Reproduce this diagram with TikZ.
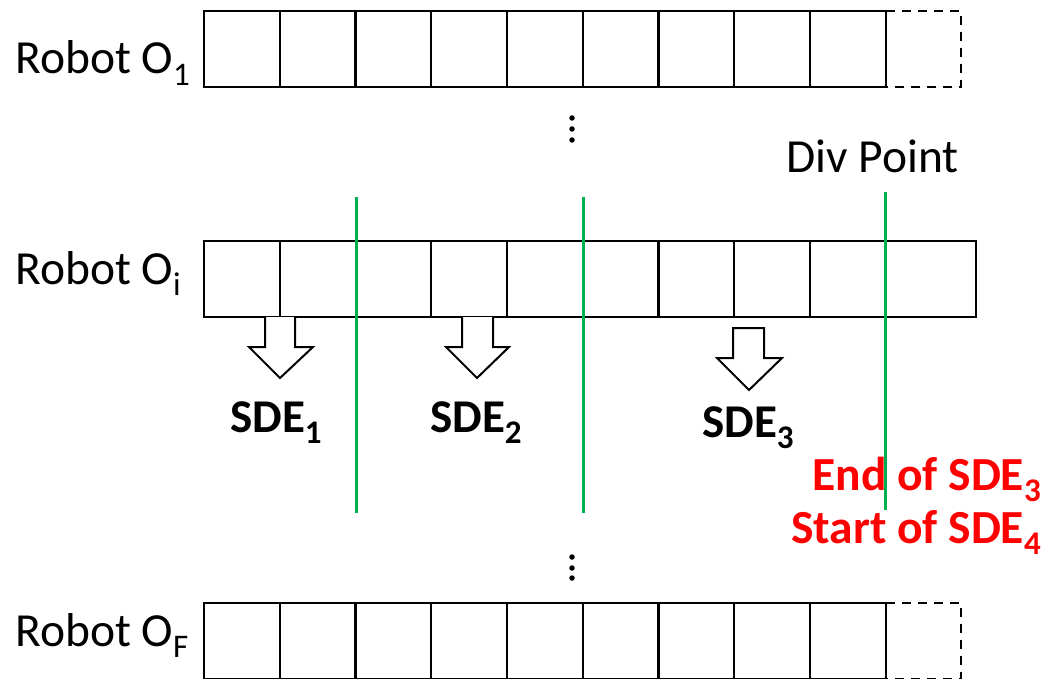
\documentclass[tikz,border=0pt]{standalone}
\usepackage{fontspec}
\setmainfont{Carlito}
\definecolor{pptgreen}{HTML}{00B050}
\definecolor{pptred}{HTML}{FF0000}
\newcommand\sbx[1]{\raisebox{-0.25em}{\fontsize{33}{33}\selectfont #1}}
\begin{document}
\begin{tikzpicture}[x=1pt,y=-1pt,
  rowline/.style={draw=black,line width=2.4pt},
  dashline/.style={draw=black,line width=2.4pt,dash pattern=on 9pt off 7pt},
  blockarrow/.style={draw=black,fill=white,line width=2pt,line join=miter},
  divline/.style={draw=pptgreen,line width=3pt},
  lbl/.style={inner sep=0pt,anchor=base west,font=\fontsize{47.5}{47.5}\selectfont},
  sde/.style={inner sep=0pt,anchor=base west,font=\fontsize{47}{47}\selectfont\bfseries},
  redlbl/.style={inner sep=0pt,anchor=base east,text=pptred,font=\fontsize{47.5}{47.5}\selectfont\bfseries},
  dotmark/.style={fill=black,draw=none,circle,inner sep=0pt,minimum size=5.5pt}]
\useasboundingbox (0,0) rectangle (1048,679);

% ---- top row (Robot O_1)
\draw[rowline] (204,11) rectangle (885.75,87);
\foreach \x in {279.75,355.5,431.25,507,582.75,658.5,734.25,810}
  \draw[rowline] (\x,11) -- (\x,87);
\draw[dashline] (885.75,11) -- (961,11) -- (961,87) -- (885.75,87);

% ---- middle row (Robot O_i)
\draw[rowline] (204,241) rectangle (976,317);
\foreach \x in {279.75,431.25,507,658.5,734.25,810}
  \draw[rowline] (\x,241) -- (\x,317);

% ---- bottom row (Robot O_F)
\draw[rowline] (204,603) rectangle (885.75,679);
\foreach \x in {279.75,355.5,431.25,507,582.75,658.5,734.25,810}
  \draw[rowline] (\x,603) -- (\x,679);
\draw[dashline] (885.75,603) -- (961,603) -- (961,679) -- (885.75,679);

% ---- block arrows
\draw[blockarrow] (265,317) -- (265,347) -- (249,347) -- (280,378) -- (313,347) -- (295,347) -- (295,317);
\draw[blockarrow] (462,317) -- (462,347) -- (446,347) -- (477,378) -- (509,347) -- (493,347) -- (493,317);
\draw[blockarrow] (733,328) -- (733,358) -- (717,358) -- (749,390) -- (782,358) -- (764,358) -- (764,328) -- cycle;

% ---- labels
\node[lbl] (r1) at (15,74) {Robot O\sbx{1}};
\node[lbl] (ri) at (15,284) {Robot O\sbx{i}};
\node[lbl] (rf) at (15,646) {Robot O\sbx{F}};
\node[lbl] (div) at (786,172) {Div Point};
\node[sde] (s1) at (230,432) {SDE\sbx{1}};
\node[sde] (s2) at (430,432) {SDE\sbx{2}};
\node[sde] (s3) at (702,437) {SDE\sbx{3}};
\node[redlbl] (endlbl) at (1041,490) {End of SDE\sbx{3}};
\node[redlbl] (startlbl) at (1041,543) {Start of SDE\sbx{4}};

% ---- vertical ellipses
\node[dotmark] (d1) at (572,118) {};
\node[dotmark] (d2) at (572,129) {};
\node[dotmark] (d3) at (572,140) {};
\node[dotmark] (d4) at (572,557) {};
\node[dotmark] (d5) at (572,568) {};
\node[dotmark] (d6) at (572,578) {};

% ---- division lines
\draw[divline] (356,197) -- (356,513);
\draw[divline] (583,197) -- (583,513);
\draw[divline] (885,192) -- (885,510);
\end{tikzpicture}
\end{document}
